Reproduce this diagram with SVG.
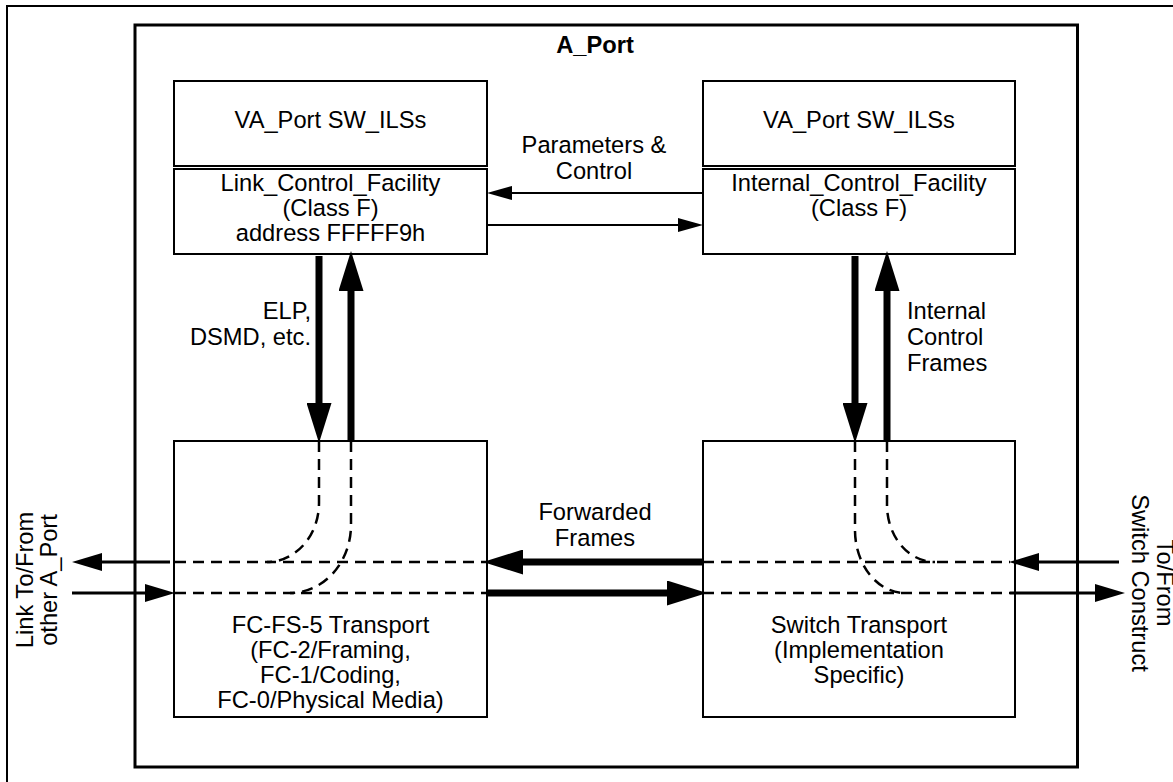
<svg xmlns="http://www.w3.org/2000/svg" width="1173" height="782" viewBox="0 0 1173 782">
  <style>
    text { font-family: "Liberation Sans", Arial, Helvetica, sans-serif; font-size: 23.7px; fill: #000; }
    .c { text-anchor: middle; }
    .e { text-anchor: end; }
    .b { font-weight: bold; }
    .box { fill: #fff; stroke: #000; stroke-width: 2; }
    .frame { fill: none; stroke: #000; stroke-width: 2; }
    .port { fill: none; stroke: #000; stroke-width: 3; }
    .thick { stroke: #000; stroke-width: 7; fill: none; }
    .ext { stroke: #000; stroke-width: 3; fill: none; }
    .thin { stroke: #000; stroke-width: 2.2; fill: none; }
    .dash { stroke: #000; stroke-width: 2.5; fill: none; stroke-dasharray: 11 7; }
  </style>
  <defs>
    <marker id="headThick" markerUnits="userSpaceOnUse" viewBox="0 0 40 25" markerWidth="40" markerHeight="25" refX="0" refY="12.5" orient="auto">
      <path d="M0,0 L40,12.5 L0,25 Z" fill="#000"/>
    </marker>
    <marker id="headMid" markerUnits="userSpaceOnUse" viewBox="0 0 30 18" markerWidth="30" markerHeight="18" refX="0" refY="9" orient="auto">
      <path d="M0,0 L30,9 L0,18 Z" fill="#000"/>
    </marker>
    <marker id="headThin" markerUnits="userSpaceOnUse" viewBox="0 0 25 14" markerWidth="25" markerHeight="14" refX="0" refY="7" orient="auto">
      <path d="M0,0 L25,7 L0,14 Z" fill="#000"/>
    </marker>
  </defs>

  <rect width="1173" height="782" fill="#fff"/>

  <!-- page frame -->
  <rect class="frame" x="7" y="6" width="1200" height="800"/>

  <!-- A_Port container -->
  <g id="a-port">
    <rect class="port" x="135" y="25" width="942.5" height="742"/>
    <text class="c b" x="595" y="53">A_Port</text>
  </g>

  <g id="left-ils">
    <rect class="box" x="174" y="81" width="313" height="85"/>
    <text class="c" x="330.5" y="128">VA_Port SW_ILSs</text>
  </g>
  <g id="link-control-facility">
    <rect class="box" x="174" y="169" width="313" height="85"/>
    <text class="c" x="330.5" y="191">Link_Control_Facility</text>
    <text class="c" x="330.5" y="216">(Class F)</text>
    <text class="c" x="330.5" y="241">address FFFFF9h</text>
  </g>

  <g id="right-ils">
    <rect class="box" x="703" y="81" width="312" height="85"/>
    <text class="c" x="859" y="128">VA_Port SW_ILSs</text>
  </g>
  <g id="internal-control-facility">
    <rect class="box" x="703" y="169" width="312" height="85"/>
    <text class="c" x="859" y="191">Internal_Control_Facility</text>
    <text class="c" x="859" y="216">(Class F)</text>
  </g>

  <g id="fc-fs-5-transport">
    <rect class="box" x="174" y="441" width="313" height="276"/>
    <text class="c" x="330.5" y="633">FC-FS-5 Transport</text>
    <text class="c" x="330.5" y="658">(FC-2/Framing,</text>
    <text class="c" x="330.5" y="683">FC-1/Coding,</text>
    <text class="c" x="330.5" y="708">FC-0/Physical Media)</text>
  </g>

  <g id="switch-transport">
    <rect class="box" x="703" y="441" width="312" height="276"/>
    <text class="c" x="859" y="633">Switch Transport</text>
    <text class="c" x="859" y="658">(Implementation</text>
    <text class="c" x="859" y="683">Specific)</text>
  </g>

  <g id="connectors">
    <!-- parameters & control between the facilities -->
    <line class="thin" x1="703" y1="193" x2="512" y2="193" marker-end="url(#headThin)"/>
    <line class="thin" x1="487" y1="225" x2="678" y2="225" marker-end="url(#headThin)"/>

    <!-- vertical frame paths, link side -->
    <line class="thick" x1="319" y1="256" x2="319" y2="403" marker-end="url(#headThick)"/>
    <line class="thick" x1="351" y1="441" x2="351" y2="291" marker-end="url(#headThick)"/>

    <!-- vertical frame paths, switch side -->
    <line class="thick" x1="855" y1="256" x2="855" y2="403" marker-end="url(#headThick)"/>
    <line class="thick" x1="887" y1="441" x2="887" y2="291" marker-end="url(#headThick)"/>

    <!-- forwarded frames between transports -->
    <line class="thick" x1="703" y1="562" x2="523" y2="562" marker-end="url(#headThick)"/>
    <line class="thick" x1="487" y1="593" x2="667" y2="593" marker-end="url(#headThick)"/>

    <!-- external link -->
    <line class="ext" x1="170" y1="562" x2="102" y2="562" marker-end="url(#headMid)"/>
    <line class="ext" x1="72" y1="593" x2="145" y2="593" marker-end="url(#headMid)"/>

    <!-- switch construct -->
    <line class="ext" x1="1119" y1="562" x2="1039" y2="562" marker-end="url(#headMid)"/>
    <line class="ext" x1="1010" y1="593" x2="1095" y2="593" marker-end="url(#headMid)"/>

    <!-- internal paths through the transports -->
    <line class="dash" x1="175" y1="562" x2="487" y2="562"/>
    <line class="dash" x1="175" y1="593" x2="487" y2="593"/>
    <line class="dash" x1="703" y1="562" x2="1010" y2="562"/>
    <line class="dash" x1="703" y1="593" x2="1010" y2="593"/>
    <path class="dash" d="M319,441 V503 A52,59 0 0 1 267,562"/>
    <path class="dash" d="M351,441 V525 A61,68 0 0 1 290,593"/>
    <path class="dash" d="M855,441 V530 A50,63 0 0 0 905,593"/>
    <path class="dash" d="M887,441 V505 A48,57 0 0 0 935,562"/>
  </g>

  <!-- connector labels -->
  <g id="labels">
    <text class="c" x="594" y="153">Parameters &amp;</text>
    <text class="c" x="594" y="179">Control</text>
    <text class="e" x="311" y="319">ELP,</text>
    <text class="e" x="311" y="345">DSMD, etc.</text>
    <text x="907" y="319">Internal</text>
    <text x="907" y="345">Control</text>
    <text x="907" y="371">Frames</text>
    <text class="c" x="595" y="520">Forwarded</text>
    <text class="c" x="595" y="546">Frames</text>
    <text class="c" transform="translate(33,580) rotate(-90)">Link To/From</text>
    <text class="c" transform="translate(57,580) rotate(-90)">other A_Port</text>
    <text class="c" transform="translate(1157,583) rotate(90)">To/From</text>
    <text class="c" transform="translate(1132,583) rotate(90)">Switch Construct</text>
  </g>
</svg>
